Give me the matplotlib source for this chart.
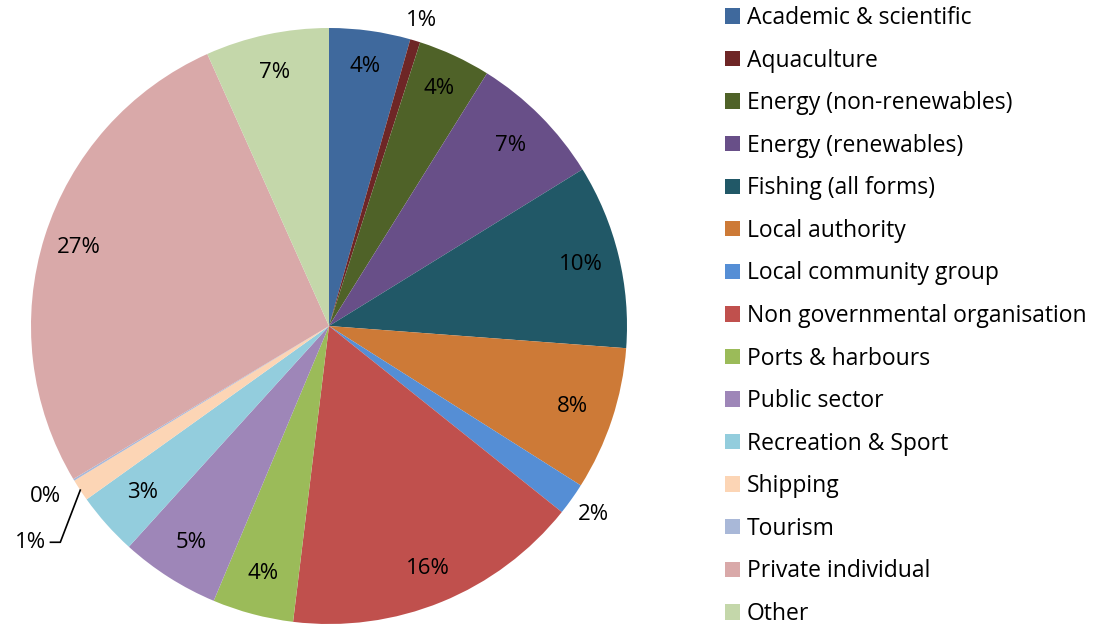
import numpy as np
import matplotlib.pyplot as plt

categories = ['Academic & scientific', 'Aquaculture', 'Energy (non-renewables)',
              'Energy (renewables)', 'Fishing (all forms)', 'Local authority',
              'Local community group', 'Non governmental organisation',
              'Ports & harbours', 'Public sector', 'Recreation & Sport',
              'Shipping', 'Tourism', 'Private individual', 'Other']
shares = [4.4, 0.55, 3.95, 7.3, 10.0, 7.8, 1.75, 16.2, 4.4, 5.4, 3.4, 1.2, 0.1, 26.9, 6.7]
labels = ['4%', '1%', '4%', '7%', '10%', '8%', '2%', '16%', '4%', '5%', '3%',
          '1%', '0%', '27%', '7%']
colors = ['#3F699D', '#6E2626', '#4F6228', '#684F88', '#215867', '#CD7A37',
          '#558ED5', '#C0504D', '#9BBB59', '#9E86B8', '#93CDDD', '#FCD5B5',
          '#A9B8D8', '#D9A9A9', '#C4D7AA']
# radius of each data label (in pie radii)
label_r = [0.88, 1.07, 0.88, 0.86, 0.87, 0.86, 1.09, 0.88, 0.86, 0.86, 0.84,
           None, 1.11, 0.88, 0.87]

plt.rcParams['font.family'] = ['Open Sans', 'DejaVu Sans']
fs = 16

fig = plt.figure(figsize=(10.93, 6.28), dpi=100)
ax = fig.add_axes([31 / 1093, 4 / 628, 596 / 1093, 596 / 628])
wedges, _ = ax.pie(shares, colors=colors, startangle=90, counterclock=False,
                   radius=1.0, wedgeprops=dict(linewidth=0))
ax.set_xlim(-1, 1)
ax.set_ylim(-1, 1)
ax.axis('off')

for w, lab, r in zip(wedges, labels, label_r):
    mid = np.deg2rad((w.theta1 + w.theta2) / 2)
    if r is None:
        # leader line for the shipping label
        x0, y0 = np.cos(mid), np.sin(mid)
        ly = y0 - 0.175
        ax.plot([x0, x0 - 0.067, x0 - 0.1], [y0, ly, ly], color='black', lw=1.2,
                clip_on=False)
        ax.text(x0 - 0.115, ly, lab, ha='right', va='center', fontsize=fs)
        continue
    ax.text(r * np.cos(mid), r * np.sin(mid), lab, ha='center', va='center',
            fontsize=fs)

fig.legend(wedges, categories, loc='upper left', bbox_to_anchor=(716 / 1093, 1.005),
           frameon=False, fontsize=16.5, handlelength=0.655, handleheight=0.655,
           handletextpad=0.3, labelspacing=0.81, borderaxespad=0)

fig.savefig('out.png', dpi=100)
